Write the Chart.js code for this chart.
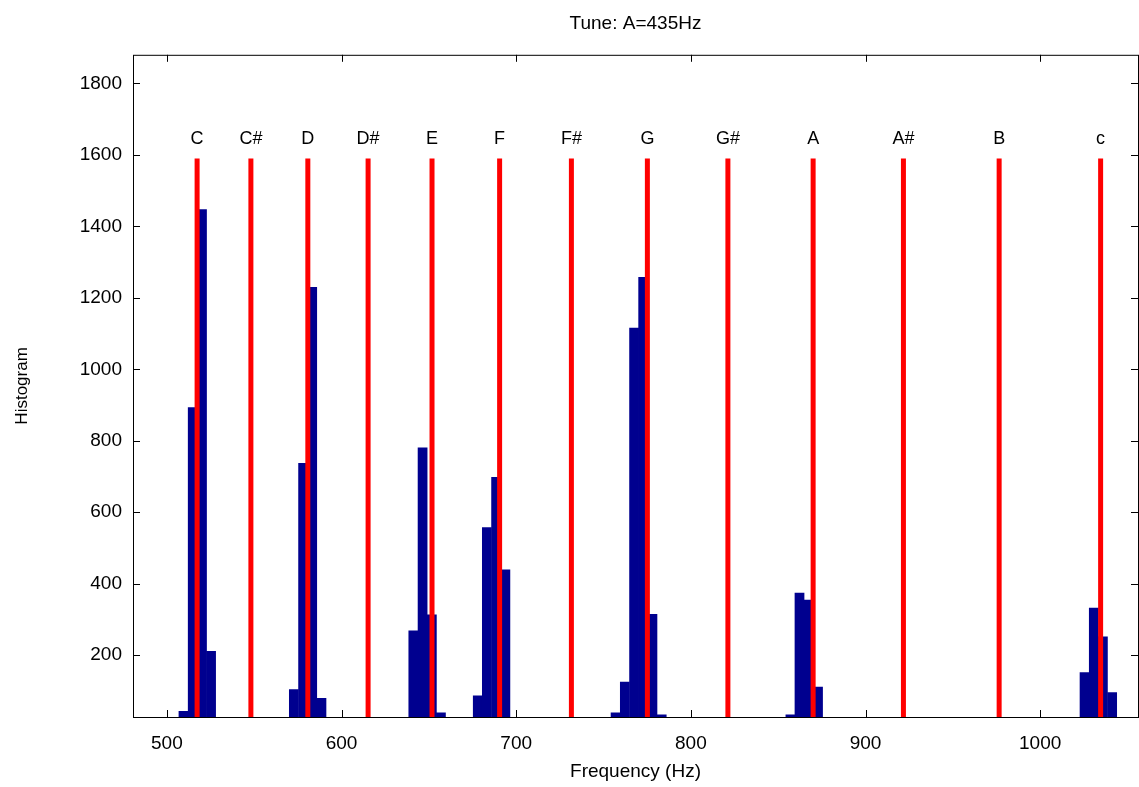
<!DOCTYPE html>
<html>
<head>
<meta charset="utf-8">
<script src="https://cdn.jsdelivr.net/npm/chart.js@4"></script>
<style>
  body { margin: 0; background: #fff; }
  .wrap { width: 1139px; height: 787px; }
</style>
</head>
<body>
<div class="wrap"><canvas class="chart"></canvas></div>
<script>
// histogram bins (centre frequency in Hz) and counts
const binCenters = [
  509.5, 514.8, 520.1, 525.3,
  572.7, 578.0, 583.2, 588.5,
  641.1, 646.4, 651.7, 656.9,
  678.0, 683.2, 688.5, 693.8,
  756.9, 762.2, 767.5, 772.7, 778.0, 783.3,
  857.0, 862.2, 867.5, 872.8,
  1025.4, 1030.7, 1035.9, 1041.2
];
const counts = [
  43, 893, 1447, 211,
  104, 737, 1229, 79,
  268, 780, 313, 39,
  86, 557, 698, 439,
  39, 125, 1115, 1257, 314, 33,
  33, 374, 354, 111,
  151, 332, 251, 95
];

// note names and their frequencies for A=435Hz
const noteNames = ["C", "C#", "D", "D#", "E", "F", "F#", "G", "G#", "A", "A#", "B", "c"];
const noteFreqs = [517.3, 548.1, 580.7, 615.2, 651.8, 690.5, 731.6, 775.1, 821.2, 870.0, 921.7, 976.5, 1034.6];
const noteLineTop = 1590;
const noteLabelY = 1645;

const xTicks = [500, 600, 700, 800, 900, 1000];
const yTicks = [200, 400, 600, 800, 1000, 1200, 1400, 1600, 1800];

const fontFamily = "'Liberation Sans', Arial, Helvetica, sans-serif";

const noteLines = noteFreqs.map((f) => ({
  type: "line",
  data: [{ x: f, y: noteLineTop }, { x: f, y: 0 }],
  borderColor: "#ff0000",
  borderWidth: 5,
  pointRadius: 0,
  order: 1,
}));

// MATLAB-style box with inward ticks and the note labels
const boxPlugin = {
  id: "box",
  afterDraw(chart) {
    const { ctx, chartArea: a, scales: { x, y } } = chart;
    ctx.save();
    ctx.strokeStyle = "#000";
    ctx.lineWidth = 1;
    ctx.strokeRect(a.left + 0.5, a.top + 0.5, a.right - a.left, a.bottom - a.top);
    ctx.beginPath();
    xTicks.forEach((t) => {
      const px = Math.round(x.getPixelForValue(t)) + 0.5;
      ctx.moveTo(px, a.bottom); ctx.lineTo(px, a.bottom - 7);
      ctx.moveTo(px, a.top); ctx.lineTo(px, a.top + 7);
    });
    yTicks.forEach((t) => {
      const py = Math.round(y.getPixelForValue(t)) + 0.5;
      ctx.moveTo(a.left, py); ctx.lineTo(a.left + 7, py);
      ctx.moveTo(a.right, py); ctx.lineTo(a.right - 7, py);
    });
    ctx.stroke();
    ctx.fillStyle = "#000";
    ctx.font = "18px " + fontFamily;
    ctx.textAlign = "center";
    ctx.textBaseline = "middle";
    noteNames.forEach((n, i) => {
      ctx.fillText(n, x.getPixelForValue(noteFreqs[i]), y.getPixelForValue(noteLabelY));
    });
    ctx.restore();
  },
};

const ctx = document.querySelector(".chart");
new Chart(ctx, {
  data: {
    datasets: [
      ...noteLines,
      {
        type: "bar",
        data: binCenters.map((f, i) => ({ x: f, y: counts[i] })),
        backgroundColor: "#00008f",
        borderWidth: 0,
        categoryPercentage: 1,
        barPercentage: 1,
        order: 2,
      },
    ],
  },
  options: {
    responsive: true,
    maintainAspectRatio: false,
    animation: false,
    layout: { padding: { top: 0, right: 1, bottom: 0, left: 0 } },
    plugins: {
      legend: { display: false },
      tooltip: { enabled: false },
      title: {
        display: true,
        fullSize: false,
        text: "Tune: A=435Hz",
        color: "#000",
        font: { family: fontFamily, size: 19, weight: "normal" },
        padding: { top: 12, bottom: 20 },
      },
    },
    scales: {
      x: {
        type: "linear",
        offset: false,
        min: 480.6,
        max: 1056,
        grid: { display: false, drawTicks: false },
        border: { display: false },
        ticks: {
          stepSize: 100,
          includeBounds: false,
          color: "#000",
          padding: 15,
          maxRotation: 0,
          font: { family: fontFamily, size: 19 },
          callback: (v) => String(v),
        },
        title: {
          display: true,
          text: "Frequency (Hz)",
          color: "#000",
          font: { family: fontFamily, size: 19 },
          padding: { top: 0, bottom: 4 },
        },
        afterFit(scale) { scale.height = 70; },
      },
      y: {
        min: 27,
        max: 1880,
        grid: { display: false, drawTicks: false },
        border: { display: false },
        ticks: {
          stepSize: 200,
          includeBounds: false,
          color: "#000",
          padding: 11,
          font: { family: fontFamily, size: 19 },
          callback: (v) => String(v),
        },
        title: {
          display: true,
          text: "Histogram",
          color: "#000",
          font: { family: fontFamily, size: 17 },
          padding: { top: 12, bottom: 0 },
        },
        afterFit(scale) { scale.width = 133; },
      },
    },
  },
  plugins: [boxPlugin],
});
</script>
</body>
</html>
